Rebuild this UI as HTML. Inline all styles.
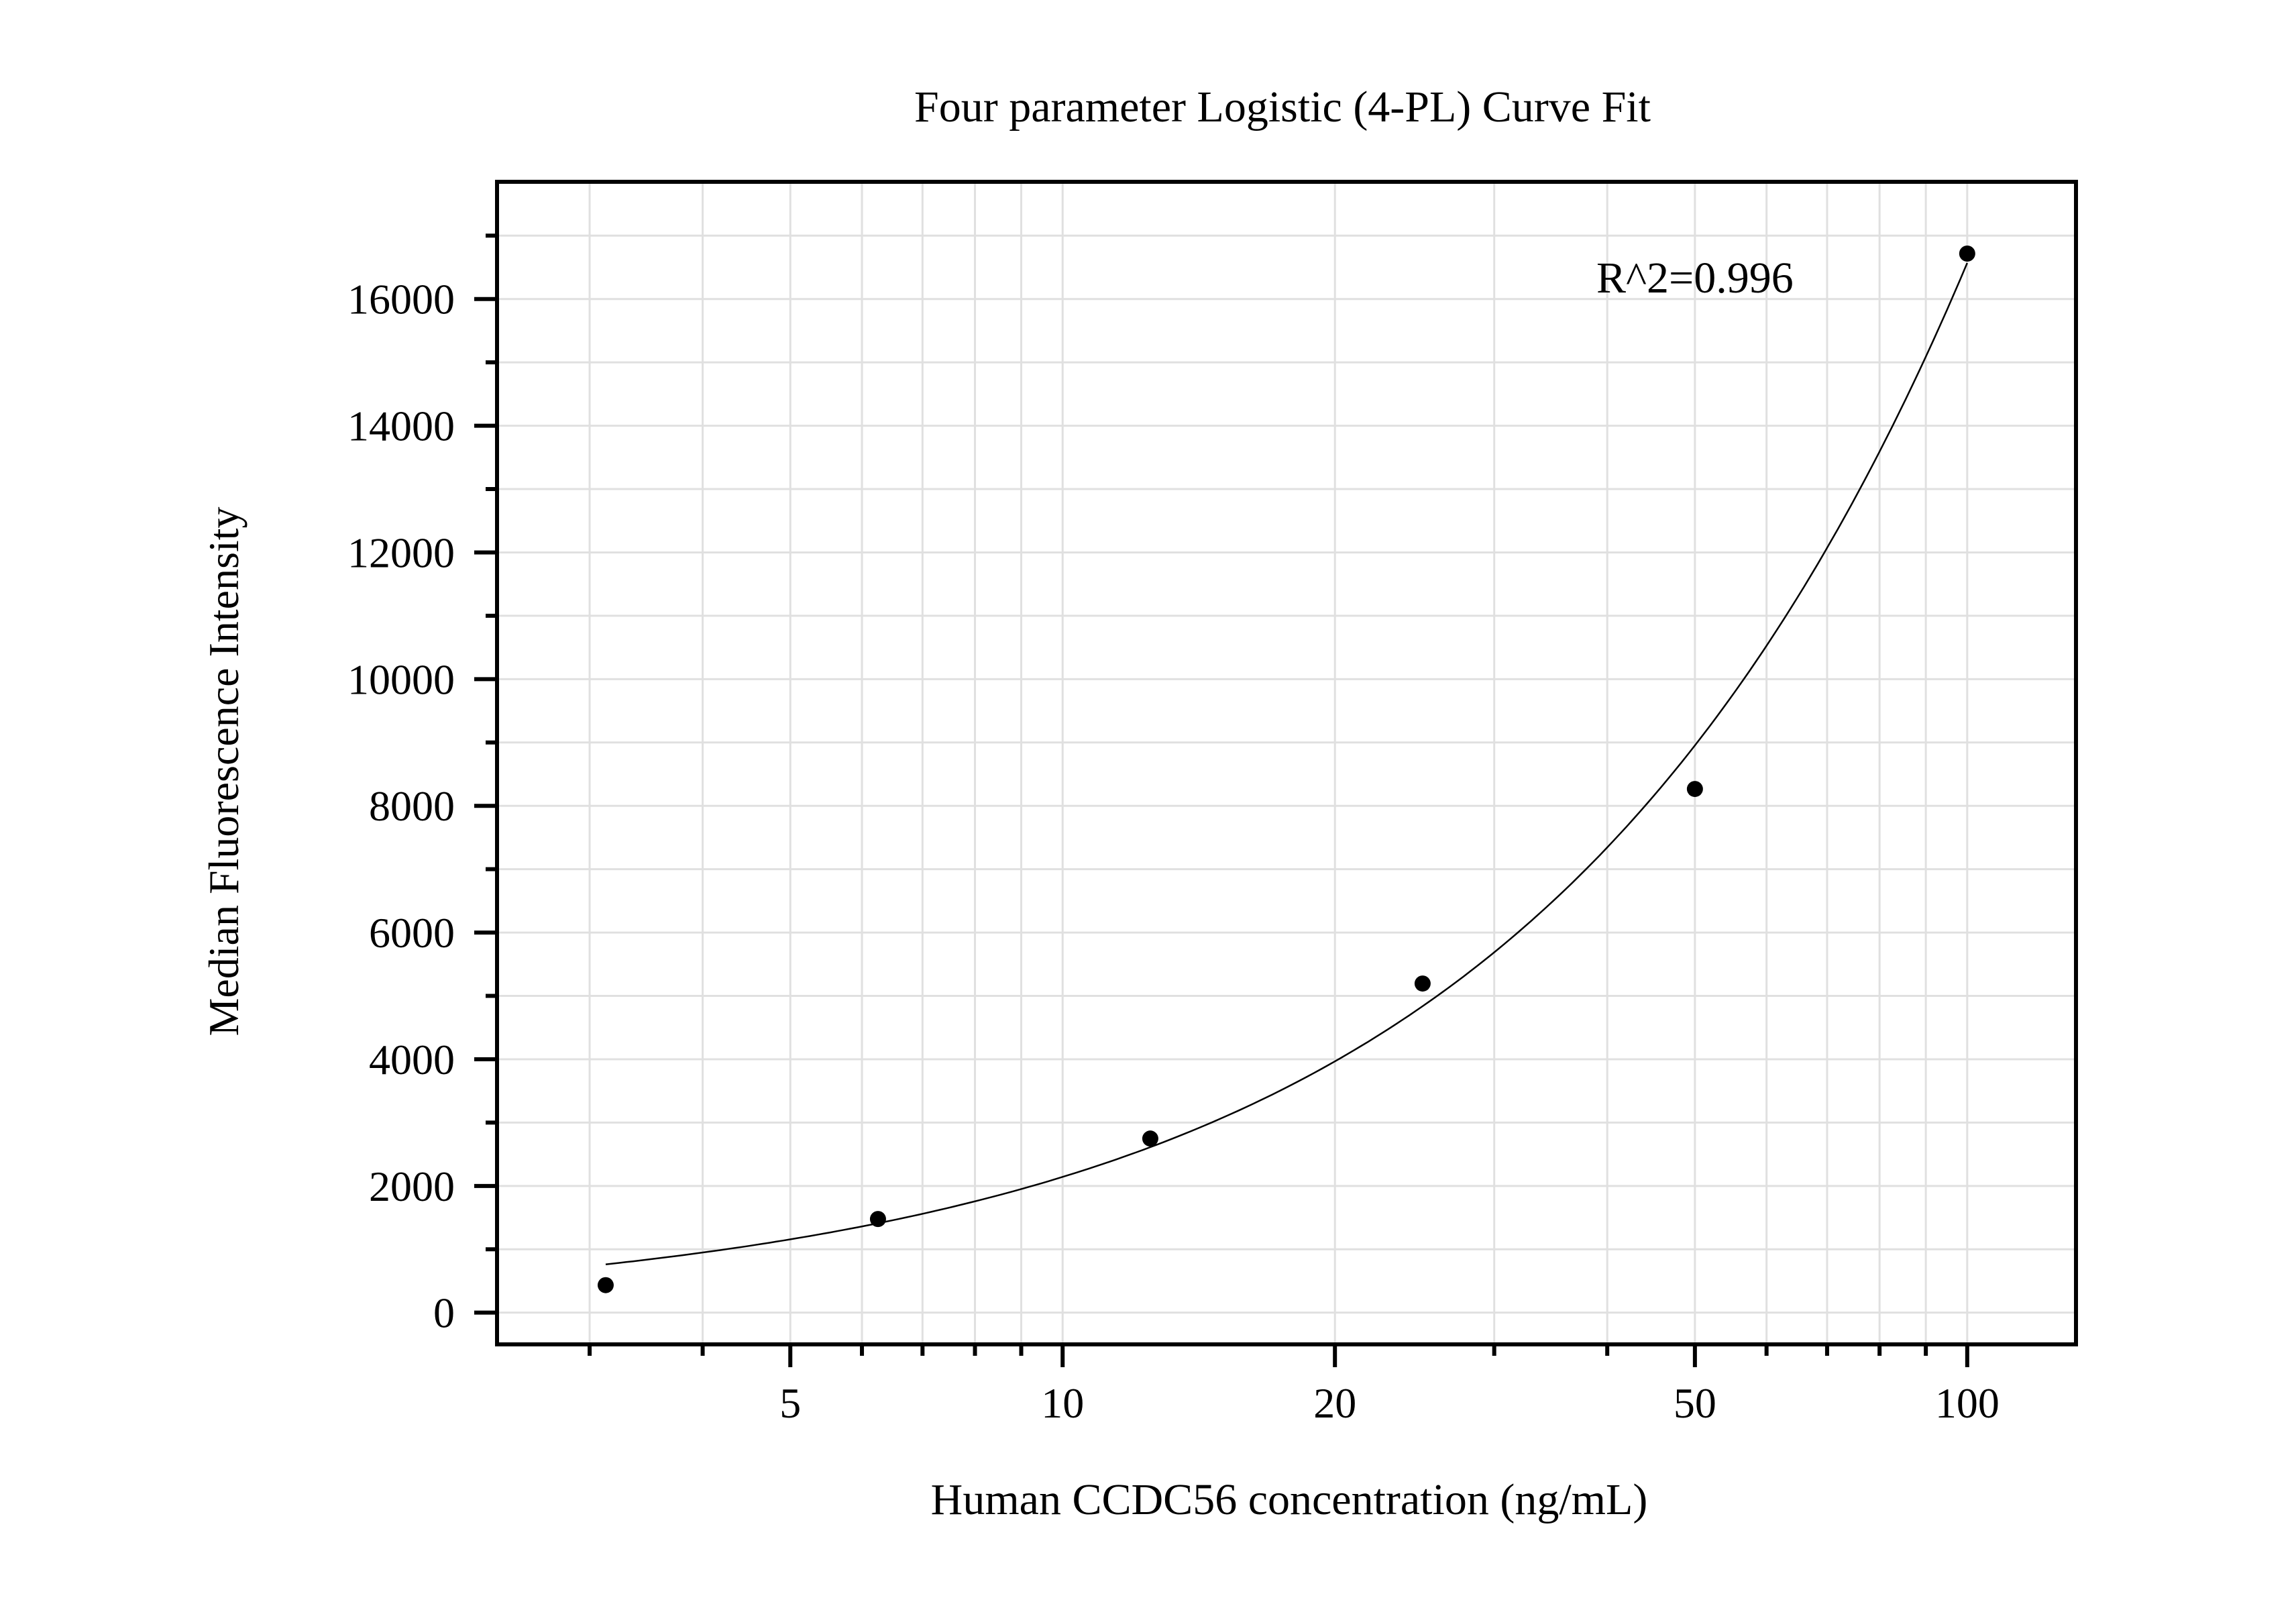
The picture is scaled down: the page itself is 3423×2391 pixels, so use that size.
<!DOCTYPE html>
<html><head><meta charset="utf-8"><style>
html,body{margin:0;padding:0;background:#fff;}
svg{display:block;}
text{font-family:"Liberation Serif",serif;fill:#000;}
</style></head><body>
<svg id="chart" width="3423" height="2391" viewBox="0 0 3423 2391" xmlns="http://www.w3.org/2000/svg">
<rect x="0" y="0" width="3423" height="2391" fill="#fff"/>
<g id="grid"></g>
<g id="curve"></g>
<g id="points"></g>
<rect x="741" y="271" width="2354" height="1733" fill="none" stroke="#000" stroke-width="6"/>
<g id="axes"></g>
<text x="1912" y="181" font-size="66" text-anchor="middle">Four parameter Logistic (4-PL) Curve Fit</text>
<text x="2380" y="436" font-size="66">R^2=0.996</text>
<text x="1922" y="2257" font-size="66" text-anchor="middle">Human CCDC56 concentration (ng/mL)</text>
<text transform="translate(355,1150) rotate(-90)" font-size="64" text-anchor="middle">Median Fluorescence Intensity</text>
</svg>
<script>
const concentrations = [3.125, 6.25, 12.5, 25, 50, 100];
const intensities = [434, 1478, 2748, 5195, 8266, 16717];
const fitParams = [0, 0.889, 134000, 10000000]; // a (bottom), b (slope), c (EC50), d (top)
const yTickValues = [0, 2000, 4000, 6000, 8000, 10000, 12000, 14000, 16000];
const yTickLabels = ["0", "2000", "4000", "6000", "8000", "10000", "12000", "14000", "16000"];
const xTickValues = [5, 10, 20, 50, 100];
const xTickLabels = ["5", "10", "20", "50", "100"];

const NS = "http://www.w3.org/2000/svg";
const L = 741, R = 3095, T = 271, B = 2004;
const xMin = 2.37, xMax = 131.9, yMin = -501, yMax = 17850;
function xs(v){ return L + (Math.log10(v) - Math.log10(xMin)) / (Math.log10(xMax) - Math.log10(xMin)) * (R - L); }
function ys(v){ return B - (v - yMin) / (yMax - yMin) * (B - T); }
function mk(tag, attrs, parent){ const e = document.createElementNS(NS, tag); for (const k in attrs) e.setAttribute(k, attrs[k]); parent.appendChild(e); return e; }
function fourPL(x){ const [a,b,c,d] = fitParams; return d + (a - d) / (1 + Math.pow(x / c, b)); }

const grid = document.getElementById('grid');
const axes = document.getElementById('axes');
const minorX = [];
for (let dec = 1; dec <= 100; dec *= 10) for (let m = 1; m <= 9; m++) { const v = m * dec; if (v > xMin && v < xMax) minorX.push(v); }
minorX.forEach(v => {
  const gl = mk('line', {x1: xs(v), x2: xs(v), y1: T, y2: B, stroke: '#e0e0e0', 'stroke-width': 3}, grid);
  
  
  const major = xTickValues.indexOf(v) >= 0;
  const tk = mk('line', {x1: xs(v), x2: xs(v), y1: B, y2: B + (major ? 34 : 17), stroke: '#000', 'stroke-width': 6}, axes);
  
  
});
for (let v = 0; v <= 17000; v += 1000) {
  const gl = mk('line', {x1: L, x2: R, y1: ys(v), y2: ys(v), stroke: '#e0e0e0', 'stroke-width': 3}, grid);
  
  
  const major = v % 2000 === 0;
  const tk = mk('line', {x1: L - (major ? 34 : 17), x2: L, y1: ys(v), y2: ys(v), stroke: '#000', 'stroke-width': 6}, axes);
  
  
}
yTickValues.forEach((v, i) => {
  const t = mk('text', {x: 678, y: ys(v) + 22, 'font-size': 64, 'text-anchor': 'end'}, axes);
  t.textContent = yTickLabels[i];
  
  
});
xTickValues.forEach((v, i) => {
  const t = mk('text', {x: xs(v), y: 2113, 'font-size': 64, 'text-anchor': 'middle'}, axes);
  t.textContent = xTickLabels[i];
  
  
});
const x0 = concentrations[0], x1 = concentrations[concentrations.length - 1];
let d = '';
for (let i = 0; i <= 200; i++) {
  const v = Math.pow(10, Math.log10(x0) + (Math.log10(x1) - Math.log10(x0)) * i / 200);
  d += (i ? 'L' : 'M') + xs(v).toFixed(1) + ' ' + ys(fourPL(v)).toFixed(1);
}
const path = mk('path', {d: d, fill: 'none', stroke: '#000', 'stroke-width': 2.5}, document.getElementById('curve'));


const pts = document.getElementById('points');
concentrations.forEach((c, i) => {
  const p = mk('circle', {cx: xs(c), cy: ys(intensities[i]), r: 12, fill: '#000'}, pts);
  
  
});
</script>
</body></html>
